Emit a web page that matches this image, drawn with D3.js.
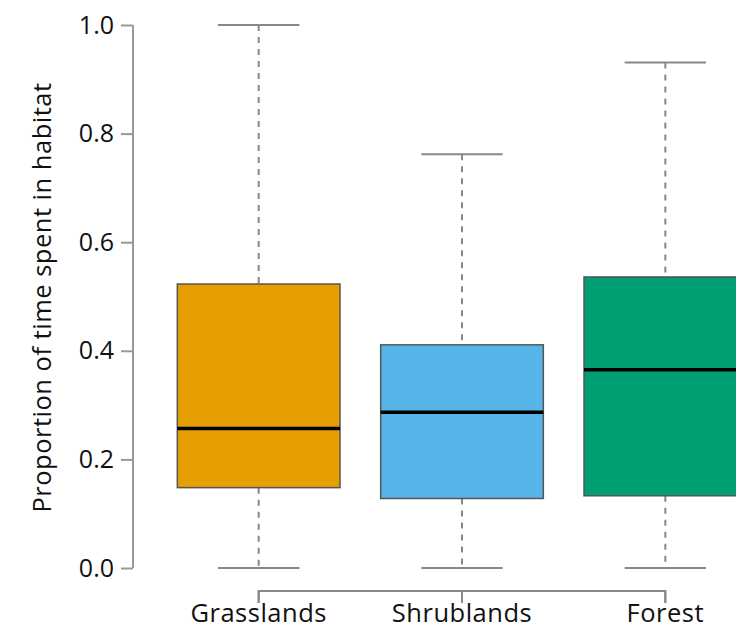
<!DOCTYPE html>
<html><head><meta charset="utf-8">
<script src="https://cdn.jsdelivr.net/npm/d3@7"></script>
<style>body{margin:0;background:#fff}svg{display:block}text{font-family:"Open Sans",sans-serif;fill:#111}</style>
</head><body>
<svg id="c" width="736" height="631"></svg>
<script>
const categories = ["Grasslands", "Shrublands", "Forest"];
const mins    = [0.0, 0.0, 0.0];
const q1s     = [0.148, 0.128, 0.133];
const medians = [0.257, 0.287, 0.365];
const q3s     = [0.523, 0.411, 0.536];
const maxs    = [1.0, 0.762, 0.931];
const colors  = ["#E69F00", "#56B4E9", "#009E73"];
const yTicks  = [0, 0.2, 0.4, 0.6, 0.8, 1.0];

const svg = d3.select("#c");
const y = d3.scaleLinear().domain([0, 1]).range([568, 25]);
const x = d3.scaleBand().domain(categories).range([157, 767]).paddingInner(0.2).paddingOuter(0.1);
const cx = c => x(c) + x.bandwidth() / 2;
const capHalf = x.bandwidth() * 0.25;

// y axis
const ya = svg.append("g").attr("transform", "translate(133,0)")
  .call(d3.axisLeft(y).tickValues(yTicks).tickFormat(d3.format(".1f")).tickSize(12).tickSizeOuter(0).tickPadding(7));
ya.select(".domain").attr("stroke", "#999").attr("stroke-width", 2).attr("d", `M0,${y(1)}V${y(0)}`);
ya.selectAll(".tick line").attr("stroke", "#999").attr("stroke-width", 2);
ya.selectAll(".tick text").attr("font-size", 25).attr("fill", "#111").attr("font-family", "Open Sans");

svg.append("text").attr("transform", `translate(51,${(y(0)+y(1))/2+1}) rotate(-90)`)
  .attr("text-anchor", "middle").attr("font-size", 25.5).attr("letter-spacing", 0.5).text("Proportion of time spent in habitat");

// x axis
const xa = svg.append("g").attr("transform", "translate(0,591)")
  .call(d3.axisBottom(x).tickSize(12).tickSizeOuter(0).tickPadding(1));
xa.select(".domain").attr("stroke", "#888").attr("stroke-width", 2)
  .attr("d", `M${cx(categories[0])},12V0H${cx(categories[2])}V12`);
xa.selectAll(".tick line").attr("stroke", "#888").attr("stroke-width", 2);
xa.selectAll(".tick text").attr("font-size", 25.5).attr("letter-spacing", 0.5).attr("fill", "#111").attr("font-family", "Open Sans");

const data = categories.map((c, i) => ({c, min: mins[i], q1: q1s[i], med: medians[i], q3: q3s[i], max: maxs[i], col: colors[i]}));
const g = svg.append("g").selectAll("g").data(data).join("g");

// whiskers
g.append("line").attr("x1", d => cx(d.c)).attr("x2", d => cx(d.c)).attr("y1", d => y(d.max)).attr("y2", d => y(d.q3))
  .attr("stroke", "#888").attr("stroke-width", 2).attr("stroke-dasharray", "6,6");
g.append("line").attr("x1", d => cx(d.c)).attr("x2", d => cx(d.c)).attr("y1", d => y(d.q1)).attr("y2", d => y(d.min))
  .attr("stroke", "#888").attr("stroke-width", 2).attr("stroke-dasharray", "6,6");
g.append("line").attr("x1", d => cx(d.c) - capHalf).attr("x2", d => cx(d.c) + capHalf).attr("y1", d => y(d.max)).attr("y2", d => y(d.max))
  .attr("stroke", "#888").attr("stroke-width", 2);
g.append("line").attr("x1", d => cx(d.c) - capHalf).attr("x2", d => cx(d.c) + capHalf).attr("y1", d => y(d.min)).attr("y2", d => y(d.min))
  .attr("stroke", "#888").attr("stroke-width", 2);
// boxes
g.append("rect").attr("x", d => x(d.c)).attr("width", x.bandwidth()).attr("y", d => y(d.q3)).attr("height", d => y(d.q1) - y(d.q3))
  .attr("fill", d => d.col).attr("stroke", "#555").attr("stroke-width", 1.5);
g.append("line").attr("x1", d => x(d.c)).attr("x2", d => x(d.c) + x.bandwidth()).attr("y1", d => y(d.med)).attr("y2", d => y(d.med))
  .attr("stroke", "#000").attr("stroke-width", 3.5);
</script>
</body></html>
